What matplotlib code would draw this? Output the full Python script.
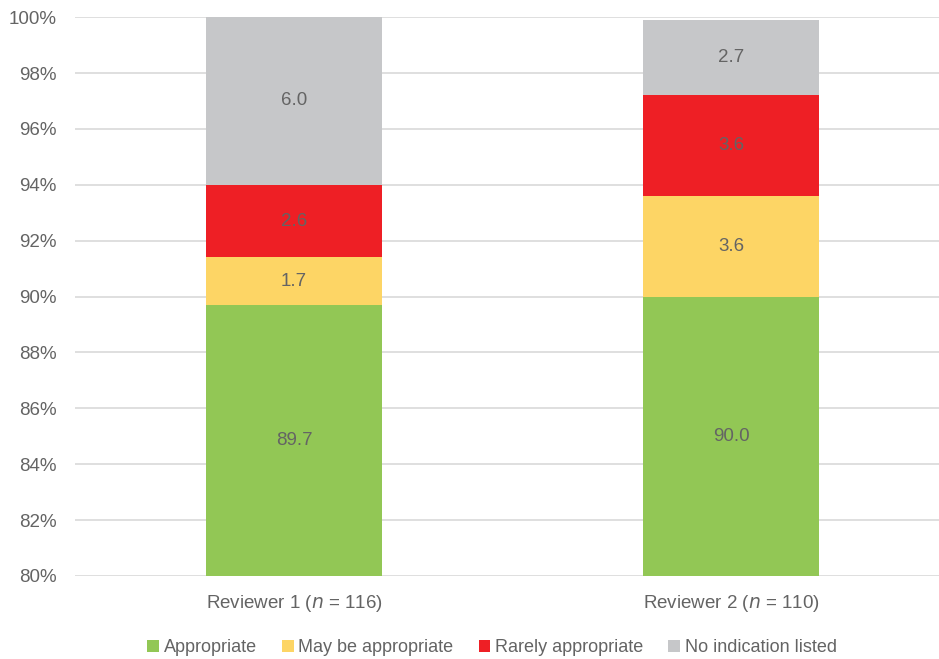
import numpy as np
import matplotlib.pyplot as plt

plt.switch_backend('Agg')
plt.rcParams['font.family'] = ['Liberation Sans', 'DejaVu Sans']

reviewers = ['Reviewer 1 ($\\it{n}$ = 116)', 'Reviewer 2 ($\\it{n}$ = 110)']
categories = ['Appropriate', 'May be appropriate', 'Rarely appropriate', 'No indication listed']
appropriate = [89.7, 90.0]
may_be = [1.7, 3.6]
rarely = [2.6, 3.6]
no_indication = [6.0, 2.7]

colors = ['#92c755', '#fdd565', '#ee1f25', '#c6c7c9']
text_color = '#646464'

y_min, y_max = 80, 100

fig = plt.figure(figsize=(9.39, 6.59), dpi=100)
ax = fig.add_axes([0.0799, 0.126, 0.9201, 0.848])

x = np.arange(len(reviewers))
bar_width = 0.403
series = [appropriate, may_be, rarely, no_indication]

bottom = np.zeros(len(reviewers))
for vals, color, name in zip(series, colors, categories):
    vals = np.array(vals)
    ax.bar(x, vals, bar_width, bottom=bottom, color=color, label=name, zorder=2)
    # value label centred on the visible part of each segment
    for xi, b, v in zip(x, bottom, vals):
        lo = max(b, y_min)
        hi = min(b + v, y_max)
        ax.text(xi, (lo + hi) / 2, f'{v:.1f}', ha='center', va='center',
                fontsize=13.5, color=text_color, zorder=3)
    bottom = bottom + vals

ax.set_ylim(y_min, y_max)
ax.set_xlim(-0.501, 1.476)
ax.set_yticks(np.arange(80, 101, 2))
ax.set_yticklabels([f'{t}%' for t in range(80, 101, 2)])
ax.set_xticks(x)
ax.set_xticklabels(reviewers)
ax.tick_params(axis='both', length=0, labelsize=13.5, labelcolor=text_color)
ax.tick_params(axis='y', pad=13)
ax.tick_params(axis='x', pad=12)

ax.grid(axis='y', color='#d9d9d9', linewidth=1.2, zorder=0)
ax.set_axisbelow(True)
for s in ax.spines.values():
    s.set_visible(False)

fig.legend(loc='center', bbox_to_anchor=(0.524, 0.017), ncol=4, frameon=False,
           fontsize=13, labelcolor=text_color, handlelength=0.65, handleheight=0.65,
           handletextpad=0.25, columnspacing=1.4)

plt.savefig('out.png', dpi=100)
